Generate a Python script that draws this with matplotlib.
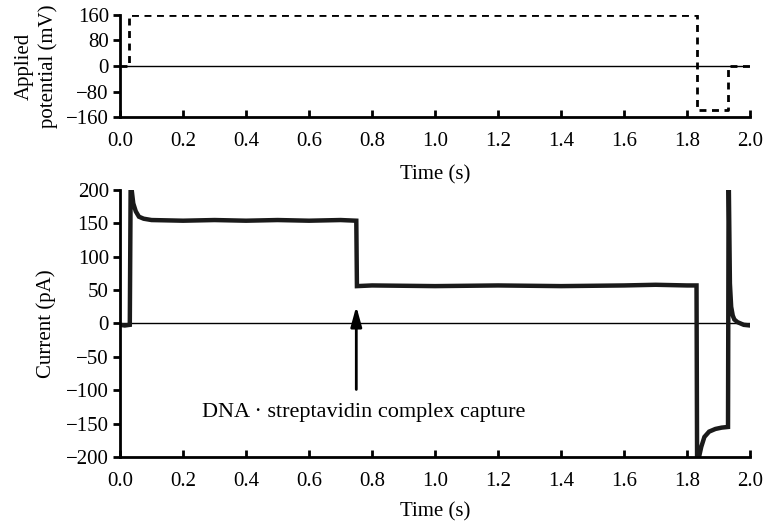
import matplotlib.pyplot as plt

plt.rcParams['font.family'] = ['Liberation Serif', 'DejaVu Serif']
plt.rcParams['font.size'] = 15

# applied potential steps (s, mV)
pot_t = [0.0, 0.03, 0.03, 1.83, 1.83, 1.93, 1.93, 2.0]
pot_v = [0, 0, 160, 160, -138, -138, 0, 0]

# current trace (s, pA)
cur_t = [0.0, 0.015, 0.031, 0.034, 0.037, 0.042, 0.05, 0.06, 0.075, 0.1, 0.2, 0.3, 0.4,
         0.5, 0.6, 0.7, 0.75, 0.752, 0.8, 1.0, 1.2, 1.4, 1.6, 1.7, 1.8, 1.83,
         1.832, 1.838, 1.845, 1.855, 1.87, 1.89, 1.91, 1.93, 1.932, 1.936, 1.94,
         1.945, 1.95, 1.96, 1.97, 1.98, 2.0]
cur_v = [-2, -3, -2, 230, 200, 180, 168, 160, 157, 155, 154, 155, 154,
         155, 154, 155, 154, 56, 57, 56, 57, 56, 57, 58, 57, 57,
         -230, -200, -185, -170, -162, -158, -156, -155, 230, 60, 25,
         12, 6, 2, 0, -2, -3]

pot_ticks = [-160, -80, 0, 80, 160]
cur_ticks = [-200, -150, -100, -50, 0, 50, 100, 150, 200]
time_ticks = [0.0, 0.2, 0.4, 0.6, 0.8, 1.0, 1.2, 1.4, 1.6, 1.8, 2.0]


def style(ax):
    for s in ['top', 'right']:
        ax.spines[s].set_visible(False)
    for s in ['left', 'bottom']:
        ax.spines[s].set_linewidth(2)
    ax.tick_params(axis='x', direction='in', width=2, length=5, pad=11)
    ax.tick_params(axis='y', direction='out', width=2, length=5, pad=3)
    ax.set_xlim(0, 2.0)
    ax.set_xticks(time_ticks)
    ax.set_xticklabels([f"{t:.1f}" for t in time_ticks])


fig = plt.figure(figsize=(7.66, 5.24), dpi=100)
ax1 = fig.add_axes([0.1567, 0.7767, 0.8225, 0.1947])
ax2 = fig.add_axes([0.1567, 0.1279, 0.8225, 0.5095])

style(ax1)
ax1.axhline(0, color='black', lw=1)
ax1.plot(pot_t, pot_v, color='black', lw=2, ls=(0, (2.5, 2)))
ax1.set_ylim(-160, 160)
ax1.set_yticks(pot_ticks)
ax1.set_yticklabels([str(v).replace('-', '\u2212') for v in pot_ticks])
ax1.set_xlabel("Time (s)", labelpad=10)
ax1.set_ylabel("Applied\npotential (mV)", labelpad=6, linespacing=1.25)

style(ax2)
ax2.axhline(0, color='black', lw=1)
ax2.plot(cur_t, cur_v, color='#1a1a1a', lw=3.2, solid_joinstyle='miter')
ax2.set_ylim(-200, 200)
ax2.set_yticks(cur_ticks)
ax2.set_yticklabels([str(v).replace('-', '\u2212') for v in cur_ticks])
ax2.set_xlabel("Time (s)", labelpad=8)
ax2.set_ylabel("Current (pA)", labelpad=7)

ax2.annotate("", xy=(0.75, 30), xytext=(0.75, -103),
             arrowprops=dict(arrowstyle='-|>,head_length=0.8,head_width=0.22',
                             color='black', lw=2))
ax2.text(0.772, -133, "DNA \u00b7 streptavidin complex capture", ha='center', va='center',
         fontsize=16)

fig.savefig("out.png", dpi=100)
